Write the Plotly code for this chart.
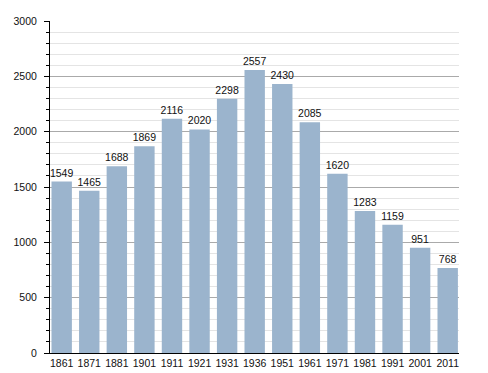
import plotly.graph_objects as go

years = ["1861", "1871", "1881", "1901", "1911", "1921", "1931", "1936",
         "1951", "1961", "1971", "1981", "1991", "2001", "2011"]
population = [1549, 1465, 1688, 1869, 2116, 2020, 2298, 2557,
              2430, 2085, 1620, 1283, 1159, 951, 768]
y_ticks = [0, 500, 1000, 1500, 2000, 2500, 3000]

font = "Liberation Sans, Arial, sans-serif"
fs = 10.5

fig = go.Figure(go.Bar(
    x=years, y=population,
    marker=dict(color="#9bb4cd", line=dict(width=0)),
    text=[str(v) for v in population],
    textposition="outside",
    constraintext="none",
    textfont=dict(family=font, size=fs, color="#111"),
    cliponaxis=False,
))

# page body has an 8px margin, so the figure is shifted by 8px
fig.update_layout(
    width=480, height=365,
    margin=dict(l=42, r=29, t=13, b=20),
    paper_bgcolor="white", plot_bgcolor="white",
    bargap=0.26,
    showlegend=False,
    font=dict(family=font, size=fs, color="#111"),
)
fig.update_xaxes(
    type="category",
    range=[-0.424, 14.41],
    automargin=False,
    showline=True, linecolor="black", linewidth=1,
    ticks="", showgrid=False,
    tickfont=dict(family=font, size=fs, color="#111"),
)
fig.update_yaxes(
    range=[0, 3000],
    tickvals=y_ticks,
    automargin=False,
    showline=True, linecolor="black", linewidth=1,
    ticks="outside", ticklen=5, tickcolor="black",
    ticklabelstandoff=5,
    showgrid=True, gridcolor="#aaaaaa", gridwidth=1,
    zeroline=False,
    tickfont=dict(family=font, size=fs, color="#111"),
    minor=dict(dtick=100, ticks="outside", ticklen=3, tickcolor="black",
               showgrid=True, gridcolor="#e4e4e4", gridwidth=1),
)

fig.write_html("out.html")
